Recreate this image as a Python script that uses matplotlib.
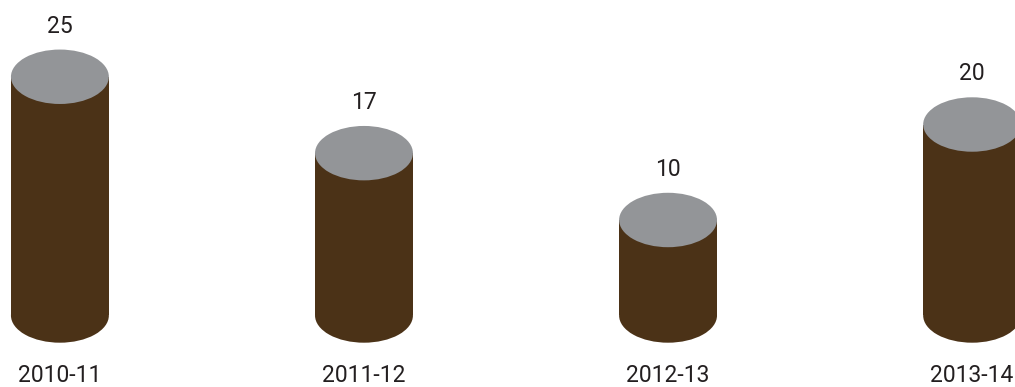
import matplotlib
matplotlib.use("Agg")
import matplotlib.pyplot as plt
from matplotlib.patches import Ellipse, Rectangle

# Data
years = ["2010-11", "2011-12", "2012-13", "2013-14"]
values = [25, 17, 10, 20]

body_color = "#4b3217"
top_color = "#939598"
text_color = "#231f20"

plt.rcParams["font.family"] = ["Roboto", "DejaVu Sans"]

fig = plt.figure(figsize=(10.15, 3.87), dpi=100)
ax = fig.add_axes([0, 0, 1, 1])
ax.set_xlim(-0.197, 3.141)
ax.set_ylim(-7.49, 33.04)
ax.axis("off")

half_w = 0.161      # half the cylinder width, in category units
cap_h = 5.7         # ellipse height, in value units

for i, (yr, v) in enumerate(zip(years, values)):
    # bottom rounded end
    ax.add_patch(Ellipse((i, 0), 2 * half_w, cap_h, facecolor=body_color,
                         edgecolor="none", zorder=1))
    # cylinder body
    ax.add_patch(Rectangle((i - half_w, 0), 2 * half_w, v, facecolor=body_color,
                           edgecolor="none", zorder=2))
    # grey top
    ax.add_patch(Ellipse((i, v), 2 * half_w, cap_h, facecolor=top_color,
                         edgecolor="none", zorder=3))
    # value label
    ax.annotate(f"{v}", xy=(i, v), xytext=(0, 36.5), textcoords="offset points",
                ha="center", va="center", fontsize=16.5, color=text_color)
    # category label
    ax.annotate(yr, xy=(i, 0), xytext=(0, -43.5), textcoords="offset points",
                ha="center", va="center", fontsize=16.5, color=text_color)

fig.savefig("out.png", dpi=100)
